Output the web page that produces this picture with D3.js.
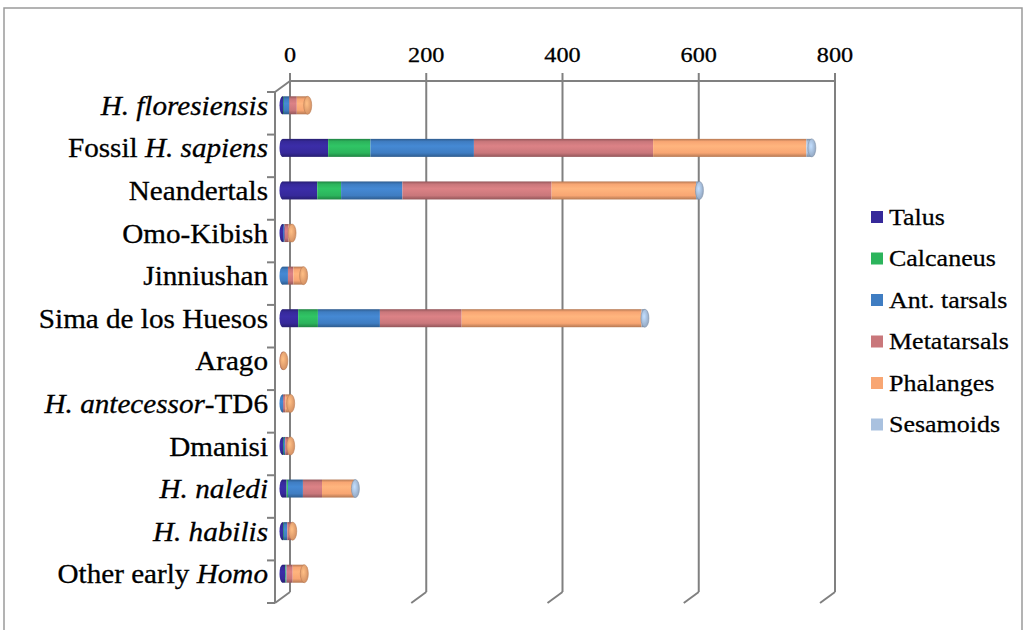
<!DOCTYPE html>
<html>
<head>
<meta charset="utf-8">
<script src="https://cdn.jsdelivr.net/npm/d3@7"></script>
<style>
  html, body { margin: 0; padding: 0; background: #fff; }
  svg { display: block; }
</style>
</head>
<body>
<div id="chart"></div>
<script>
// categories, top to bottom (*...* marks italic parts)
const categories = ["*H. floresiensis*", "Fossil *H. sapiens*", "Neandertals", "Omo-Kibish", "Jinniushan",
    "Sima de los Huesos", "Arago", "*H. antecessor*-TD6", "Dmanisi", "*H. naledi*", "*H. habilis*", "Other early *Homo*"];

// counts of foot elements per category
const talus       = [1, 67, 51, 1, 0, 23, 0, 0, 1, 6, 1, 4];
const calcaneus   = [1, 62, 35, 0, 0, 29, 0, 0, 1, 2, 1, 1];
const antTarsals  = [8, 152, 90, 2, 8, 91, 0, 1, 2, 22, 5, 1];
const metatarsals = [11, 263, 219, 6, 8, 120, 1, 3, 5, 28, 6, 9];
const phalanges   = [16, 225, 212, 5, 15, 264, 1, 8, 3, 47, 2, 17];
const sesamoids   = [0, 8, 5, 0, 0, 5, 0, 0, 0, 2, 0, 0];

const seriesNames = ["Talus", "Calcaneus", "Ant. tarsals", "Metatarsals", "Phalanges", "Sesamoids"];
const seriesColors = ["#36299a", "#2cb45c", "#3f7dc2", "#c9777b", "#f8a673", "#a9c1df"];
const xTicks = [0, 200, 400, 600, 800];

const W = 1033, H = 630;
const serif = '"Liberation Serif", "Times New Roman", serif';
const svg = d3.select('#chart').append('svg').attr('width', W).attr('height', H);

// outer frame
svg.append('rect')
    .attr('x', 4).attr('y', 8).attr('width', 1018).attr('height', 640)
    .attr('fill', 'none').attr('stroke', '#9a9a9a').attr('stroke-width', 1.5);

// 3d depth offset (back wall -> front)
const depthX = -15, depthY = 11;

// scales on the back wall
const x = d3.scaleLinear().domain([0, 800]).range([290, 835]);
const y = d3.scaleBand().domain(categories).range([81, 592]);
const yTop = y.range()[0], yBot = y.range()[1];

// gradients for cylinder look
const defs = svg.append('defs');
seriesColors.forEach((c, i) => {
    const g = defs.append('linearGradient').attr('id', 'grad' + i)
        .attr('x1', 0).attr('y1', 0).attr('x2', 0).attr('y2', 1);
    const base = d3.color(c);
    g.append('stop').attr('offset', '0%').attr('stop-color', base.darker(0.9));
    g.append('stop').attr('offset', '15%').attr('stop-color', base);
    g.append('stop').attr('offset', '40%').attr('stop-color', base.brighter(0.25));
    g.append('stop').attr('offset', '78%').attr('stop-color', base);
    g.append('stop').attr('offset', '100%').attr('stop-color', base.darker(0.9));
    const r = defs.append('radialGradient').attr('id', 'cap' + i)
        .attr('cx', '40%').attr('cy', '40%').attr('r', '70%');
    r.append('stop').attr('offset', '0%').attr('stop-color', base.brighter(0.4));
    r.append('stop').attr('offset', '100%').attr('stop-color', base.darker(0.5));
});

const gridColor = '#808080';
const frame = svg.append('g').attr('stroke', gridColor).attr('stroke-width', 2).attr('fill', 'none');

// top edge of back wall (value axis)
frame.append('line').attr('x1', x(0)).attr('x2', x(800)).attr('y1', yTop).attr('y2', yTop);
// gridlines with floor slants and ticks
xTicks.forEach(v => {
    frame.append('line').attr('x1', x(v)).attr('x2', x(v)).attr('y1', yTop).attr('y2', yBot);
    frame.append('line').attr('x1', x(v)).attr('x2', x(v) + depthX).attr('y1', yBot).attr('y2', yBot + depthY);
    frame.append('line').attr('x1', x(v)).attr('x2', x(v)).attr('y1', yTop - 8).attr('y2', yTop);
});
// left side wall
frame.append('line').attr('x1', x(0)).attr('x2', x(0) + depthX).attr('y1', yTop).attr('y2', yTop + depthY);
frame.append('line').attr('x1', x(0) + depthX).attr('x2', x(0) + depthX)
    .attr('y1', yTop + depthY).attr('y2', yBot + depthY);
// category ticks on the front-left edge
d3.range(categories.length + 1).forEach(k => {
    const yy = yTop + depthY + k * y.step();
    frame.append('line').attr('x1', x(0) + depthX - 8).attr('x2', x(0) + depthX).attr('y1', yy).attr('y2', yy);
});

// value labels on top
svg.append('g').selectAll('text').data(xTicks).join('text')
    .attr('transform', d => `translate(${x(d)},62) scale(1.1,1)`)
    .attr('text-anchor', 'middle')
    .attr('font-family', serif)
    .attr('font-size', 22)
    .attr('fill', '#000').attr('stroke', '#000').attr('stroke-width', 0.3)
    .text(d => d);

// category labels
const yMid = c => y(c) + y.bandwidth() / 2 + 3;
categories.forEach(c => {
    const t = svg.append('text')
        .attr('transform', `translate(268,${yMid(c)}) scale(1.08,1)`)
        .attr('text-anchor', 'end')
        .attr('dominant-baseline', 'central')
        .attr('font-family', serif)
        .attr('font-size', 27)
        .attr('fill', '#000').attr('stroke', '#000').attr('stroke-width', 0.3);
    c.split('*').forEach((part, i) => {
        if (!part) return;
        t.append('tspan').attr('font-style', i % 2 ? 'italic' : 'normal').text(part);
    });
});

// stacked cylinders, sitting at mid depth
const xb = v => x(v) + depthX / 2;
const barH = 18;
const allSeries = [talus, calcaneus, antTarsals, metatarsals, phalanges, sesamoids];
const bars = svg.append('g');
categories.forEach((c, ci) => {
    const cy = yMid(c);
    const vals = allSeries.map(s => s[ci]);
    const total = d3.sum(vals);
    const first = vals.findIndex(v => v > 0);
    let last = first;
    vals.forEach((v, i) => { if (v > 0) last = i; });
    // left end
    bars.append('ellipse')
        .attr('cx', xb(0)).attr('cy', cy).attr('rx', 3).attr('ry', barH / 2)
        .attr('fill', `url(#grad${first})`);
    let acc = 0;
    vals.forEach((v, i) => {
        if (v <= 0) return;
        bars.append('rect')
            .attr('x', xb(acc)).attr('y', cy - barH / 2)
            .attr('width', xb(acc + v) - xb(acc)).attr('height', barH)
            .attr('fill', `url(#grad${i})`);
        acc += v;
    });
    // right end cap
    bars.append('ellipse')
        .attr('cx', xb(total)).attr('cy', cy).attr('rx', 4).attr('ry', barH / 2)
        .attr('fill', `url(#cap${last})`)
        .attr('stroke', d3.color(seriesColors[last]).darker(0.8)).attr('stroke-width', 0.6);
});

// legend
const legend = svg.append('g');
seriesNames.forEach((n, i) => {
    const ly = 217 + i * 41.5;
    legend.append('rect')
        .attr('x', 871).attr('y', ly - 6).attr('width', 12).attr('height', 12)
        .attr('fill', seriesColors[i]);
    legend.append('text')
        .attr('transform', `translate(889,${ly}) scale(1.13,1)`)
        .attr('dominant-baseline', 'central')
        .attr('font-family', serif)
        .attr('font-size', 23)
        .attr('fill', '#000').attr('stroke', '#000').attr('stroke-width', 0.25)
        .text(n);
});
</script>
</body>
</html>
